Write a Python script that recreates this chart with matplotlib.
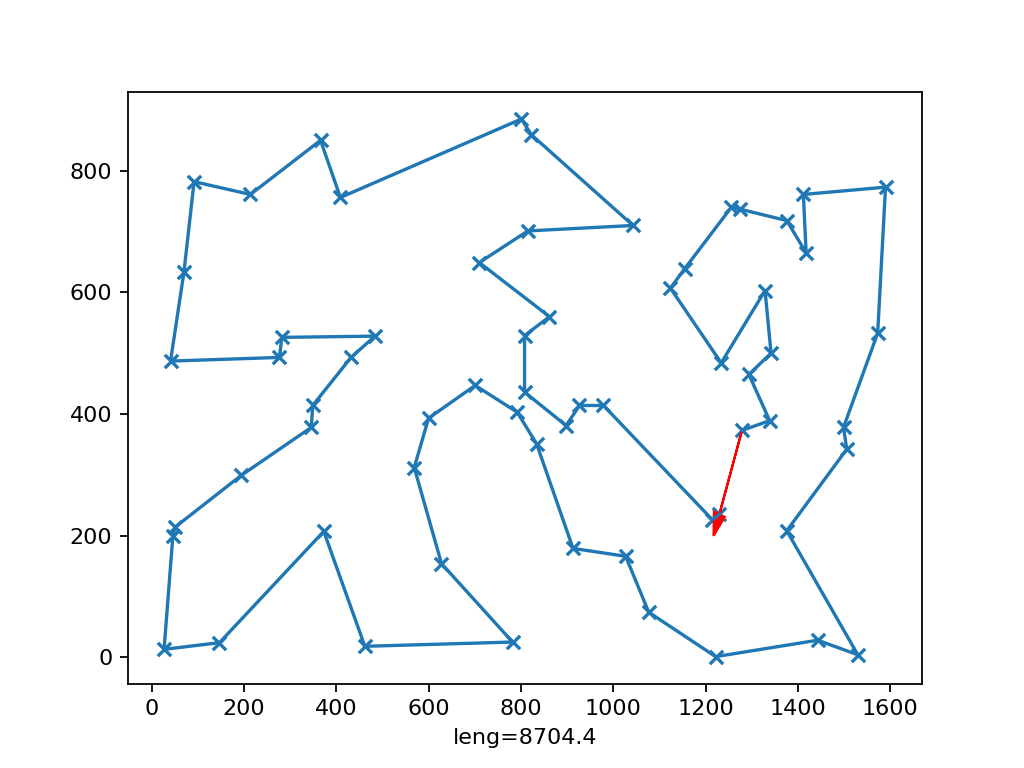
import matplotlib
matplotlib.use("Agg")
import matplotlib.pyplot as plt

# tour coordinates in visiting order
xs = [1230, 1215, 979, 927, 898, 808, 808, 862, 710, 815,
      1043, 823, 801, 409, 366, 214, 92, 70, 41, 277,
      282, 484, 432, 349, 346, 194, 51, 46, 27, 147,
      373, 462, 782, 628, 569, 600, 701, 792, 834, 913,
      1027, 1077, 1222, 1443, 1530, 1376, 1506, 1499, 1573, 1590,
      1412, 1418, 1376, 1274, 1256, 1155, 1124, 1234, 1329, 1342,
      1294, 1339, 1279]
ys = [235, 226, 414, 414, 381, 436, 529, 560, 649, 701,
      710, 859, 885, 756, 850, 761, 782, 633, 487, 493,
      526, 528, 493, 414, 378, 299, 214, 199, 13, 24,
      207, 18, 25, 154, 312, 393, 447, 403, 351, 179,
      166, 74, 1, 28, 4, 208, 342, 378, 533, 773,
      761, 665, 718, 737, 740, 639, 607, 484, 603, 500,
      465, 389, 373]
label = "leng=8704.4"

fig, ax = plt.subplots(figsize=(6.4, 4.8), dpi=160)
ax.scatter(xs, ys, marker='x', color='C0')
ax.plot(xs, ys, color='C0')
ax.arrow(xs[-1], ys[-1], xs[0] - xs[-1], ys[0] - ys[-1],
         color='r', head_width=25)
ax.set_xlabel(label)
fig.savefig("out.png")
